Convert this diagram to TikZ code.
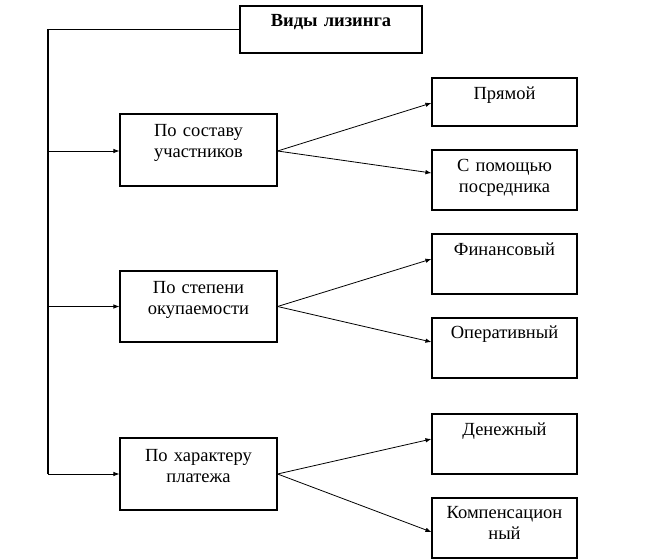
\documentclass[tikz,border=0pt]{standalone}
\usepackage{fontspec}
\setmainfont{Liberation Serif}
\usetikzlibrary{arrows.meta,calc}
\begin{document}
\begin{tikzpicture}[x=1pt,y=-1pt,
  box/.style={draw,line width=1.1pt,inner sep=0pt,minimum width=#1},
  mid/.style={box=157pt,minimum height=72pt},
  rgt/.style={box=145pt,minimum height=60pt},
  txt/.style={inner sep=0pt,anchor=base,text width=150pt,align=center,
    font=\fontsize{18.5}{21}\selectfont},
  arr/.style={line width=0.8pt,-{Latex[length=6pt,width=4.5pt]}},
  ln/.style={line width=1.1pt}]
\useasboundingbox (0,0) rectangle (649,559);
% boxes
\node[box=182pt,minimum height=47pt] (top) at (331,29.5) {};
\node[mid] (b1) at (198.5,150) {};
\node[mid,minimum height=71pt] (b2) at (198.5,306.5) {};
\node[mid] (b3) at (198.5,474) {};
\node[rgt,minimum height=48pt] (r1) at (504.5,102) {};
\node[rgt] (r2) at (504.5,180) {};
\node[rgt] (r3) at (504.5,264) {};
\node[rgt] (r4) at (504.5,348) {};
\node[rgt] (r5) at (504.5,444) {};
\node[rgt] (r6) at (504.5,528) {};
% texts
\node[txt,font=\fontsize{18.5}{21}\selectfont\bfseries] (ttop) at ($(top.north)+(0,21)$) {Виды лизинга};
\node[txt] (t1) at ($(b1.north)+(0,23)$) {По составу\\участников};
\node[txt] (t2) at ($(b2.north)+(0,23)$) {По степени\\окупаемости};
\node[txt] (t3) at ($(b3.north)+(0,24)$) {По характеру\\платежа};
\node[txt] (s1) at ($(r1.north)+(0,22)$) {Прямой};
\node[txt] (s2) at ($(r2.north)+(0,22)$) {С помощью\\посредника};
\node[txt] (s3) at ($(r3.north)+(0,22)$) {Финансовый};
\node[txt] (s4) at ($(r4.north)+(0,21)$) {Оперативный};
\node[txt] (s5) at ($(r5.north)+(0,22)$) {Денежный};
\node[txt] (s6) at ($(r6.north)+(0,21)$) {Компенсацион\\ный};
% left trunk
\coordinate (c) at (48,474);
\draw[ln] (top.west) -| (c);
\draw[arr] ($(c |- b1.west)+(0,1)$) -- ($(b1.west)+(0,1)$);
\draw[arr] (c |- b2.west) -- (b2.west);
\draw[arr] (c |- b3.west) -- (b3.west);
% right fan
\draw[arr] ($(b1.east)+(0,1)$) -- ($(r1.west)+(0,1)$);
\draw[arr] ($(b1.east)+(0,1)$) -- ($(r2.west)+(0,-7)$);
\draw[arr] (b2.east) -- ($(r3.west)+(0,-5)$);
\draw[arr] (b2.east) -- ($(r4.west)+(0,-6)$);
\draw[arr] (b3.east) -- ($(r5.west)+(0,-5)$);
\draw[arr] (b3.east) -- ($(r6.west)+(0,4)$);
\end{tikzpicture}
\end{document}
